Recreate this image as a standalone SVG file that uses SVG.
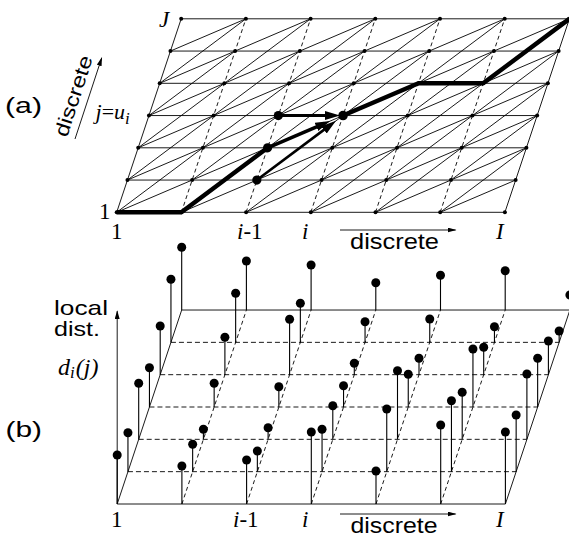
<svg xmlns="http://www.w3.org/2000/svg" width="569" height="538" viewBox="0 0 569 538">
<defs>
<style>
.ln{stroke:#000;stroke-width:0.9;fill:none}
.da{stroke:#000;stroke-width:0.9;fill:none;stroke-dasharray:4 3}
.db{stroke:#000;stroke-width:0.9;fill:none;stroke-dasharray:5 3}
.st{stroke:#000;stroke-width:1.1;fill:none}
.thick{stroke:#000;stroke-width:4.5;fill:none;stroke-linejoin:round}
.sd circle{fill:#000}
.sans{font-family:"Liberation Sans",Arial,sans-serif;fill:#000}
.serif{font-family:"Liberation Serif","Times New Roman",serif;fill:#000}
.it{font-style:italic}
</style>
<marker id="ah" markerUnits="userSpaceOnUse" markerWidth="10" markerHeight="6" refX="8" refY="2.5" orient="auto"><path d="M0,0 L9,2.5 L0,5 z" fill="#000"/></marker>
<marker id="bh" markerUnits="userSpaceOnUse" markerWidth="16" markerHeight="10" refX="9" refY="4.5" orient="auto"><path d="M0,0 L15,4.5 L0,9 z" fill="#000"/></marker>
</defs>
<rect width="569" height="538" fill="#fff"/>

<g id="panel-a-grid">
<path class="ln" d="M116.7 212.3H504.9M127.45 180.05H515.65M138.2 147.8H526.4M148.95 115.55H537.15M159.7 83.3H547.9M170.45 51.05H558.65M181.2 18.8H569.4M116.7 212.3L181.2 18.8M504.9 212.3L569.4 18.8"/>
<path class="ln" d="M116.7 212.3L569.4 18.8M181.4 212.3L558.65 51.05M246.1 212.3L547.9 83.3M310.8 212.3L537.15 115.55M375.5 212.3L526.4 147.8M440.2 212.3L515.65 180.05M127.45 180.05L504.7 18.8M138.2 147.8L440 18.8M148.95 115.55L375.3 18.8M159.7 83.3L310.6 18.8M170.45 51.05L245.9 18.8"/>
<path class="ln" d="M116.7 212.3L375.3 18.8M181.4 212.3L440 18.8M246.1 212.3L504.7 18.8M310.8 212.3L569.4 18.8M375.5 212.3L547.9 83.3M440.2 212.3L526.4 147.8M127.45 180.05L299.85 51.05M192.15 180.05L364.55 51.05M256.85 180.05L429.25 51.05M321.55 180.05L493.95 51.05M386.25 180.05L558.65 51.05M450.95 180.05L537.15 115.55M138.2 147.8L310.6 18.8M148.95 115.55L235.15 51.05M159.7 83.3L245.9 18.8"/>
<path class="da" d="M181.4 212.3L245.9 18.8M246.1 212.3L310.6 18.8M310.8 212.3L375.3 18.8M375.5 212.3L440 18.8M440.2 212.3L504.7 18.8"/>
</g>

<g id="connectors">
<path id="path-a" class="thick" d="M116.7 212.3L181.4 212.3L267.6 147.8"/>
<path id="path-b" class="thick" d="M343.05 115.55L418.5 83.3L483.2 83.3L569.4 18.8"/>
<line id="arrow-h" x1="278.35" y1="115.55" x2="334" y2="115.55" stroke="#000" stroke-width="3" marker-end="url(#bh)"/>
<line id="arrow-d1" x1="267.6" y1="147.8" x2="324.7" y2="123.4" stroke="#000" stroke-width="3.5" marker-end="url(#bh)"/>
<line id="arrow-d2" x1="256.85" y1="180.05" x2="331.2" y2="124.4" stroke="#000" stroke-width="2.6" marker-end="url(#bh)"/>
<line id="arrow-j" x1="75" y1="139" x2="101.7" y2="57.9" class="ln" marker-end="url(#ah)"/>
<line id="arrow-i-a" x1="340" y1="230" x2="455.5" y2="230" class="ln" marker-end="url(#ah)"/>
<line id="arrow-i-b" x1="340" y1="514" x2="455.5" y2="514" class="ln" marker-end="url(#ah)"/>
<line id="axis-d" x1="117.2" y1="504" x2="117.2" y2="311.2" class="ln" marker-end="url(#ah)"/>
</g>

<g id="panel-a-dots" class="sd">
<circle cx="116.7" cy="212.3" r="2"/><circle cx="181.4" cy="212.3" r="2"/><circle cx="246.1" cy="212.3" r="2"/><circle cx="310.8" cy="212.3" r="2"/><circle cx="375.5" cy="212.3" r="2"/><circle cx="440.2" cy="212.3" r="2"/><circle cx="504.9" cy="212.3" r="2"/>
<circle cx="127.45" cy="180.05" r="2"/><circle cx="192.15" cy="180.05" r="2"/><circle cx="256.85" cy="180.05" r="2"/><circle cx="321.55" cy="180.05" r="2"/><circle cx="386.25" cy="180.05" r="2"/><circle cx="450.95" cy="180.05" r="2"/><circle cx="515.65" cy="180.05" r="2"/>
<circle cx="138.2" cy="147.8" r="2"/><circle cx="202.9" cy="147.8" r="2"/><circle cx="267.6" cy="147.8" r="2"/><circle cx="332.3" cy="147.8" r="2"/><circle cx="397" cy="147.8" r="2"/><circle cx="461.7" cy="147.8" r="2"/><circle cx="526.4" cy="147.8" r="2"/>
<circle cx="148.95" cy="115.55" r="2"/><circle cx="213.65" cy="115.55" r="2"/><circle cx="278.35" cy="115.55" r="2"/><circle cx="343.05" cy="115.55" r="2"/><circle cx="407.75" cy="115.55" r="2"/><circle cx="472.45" cy="115.55" r="2"/><circle cx="537.15" cy="115.55" r="2"/>
<circle cx="159.7" cy="83.3" r="2"/><circle cx="224.4" cy="83.3" r="2"/><circle cx="289.1" cy="83.3" r="2"/><circle cx="353.8" cy="83.3" r="2"/><circle cx="418.5" cy="83.3" r="2"/><circle cx="483.2" cy="83.3" r="2"/><circle cx="547.9" cy="83.3" r="2"/>
<circle cx="170.45" cy="51.05" r="2"/><circle cx="235.15" cy="51.05" r="2"/><circle cx="299.85" cy="51.05" r="2"/><circle cx="364.55" cy="51.05" r="2"/><circle cx="429.25" cy="51.05" r="2"/><circle cx="493.95" cy="51.05" r="2"/><circle cx="558.65" cy="51.05" r="2"/>
<circle cx="181.2" cy="18.8" r="2"/><circle cx="245.9" cy="18.8" r="2"/><circle cx="310.6" cy="18.8" r="2"/><circle cx="375.3" cy="18.8" r="2"/><circle cx="440" cy="18.8" r="2"/><circle cx="504.7" cy="18.8" r="2"/><circle cx="569.4" cy="18.8" r="2"/>
</g>
<g id="panel-a-bigdots" class="sd">
<circle cx="256.85" cy="180.05" r="4.6"/><circle cx="267.6" cy="147.8" r="4.6"/><circle cx="278.35" cy="115.55" r="4.6"/><circle cx="343.05" cy="115.55" r="4.8"/>
</g>

<g id="panel-b-floor">
<path class="ln" d="M117.2 504H505.4M181.7 310.02H569.9M117.2 504L181.7 310.02M505.4 504L569.9 310.02"/>
<path class="db" d="M127.95 471.67H516.15M138.7 439.34H526.9M149.45 407.01H537.65M160.2 374.68H548.4M170.95 342.35H559.15"/>
<path class="da" d="M181.9 504L246.4 310.02M246.6 504L311.1 310.02M311.3 504L375.8 310.02M376 504L440.5 310.02M440.7 504L505.2 310.02"/>
</g>

<g id="panel-b-stems">
<path class="st" d="M117.2 504V455M127.95 471.67V432.7M138.7 439.34V383.3M149.45 407.01V367.7M160.2 374.68V326M170.95 342.35V279.3M181.7 310.02V247.3
M181.9 504V466M192.65 471.67V444.3M203.4 439.34V429.3M214.15 407.01V383.3M224.9 374.68V337.3M235.65 342.35V293.3M246.4 310.02V261
M246.6 504V460M257.35 471.67V451M268.1 439.34V427.7M278.85 407.01V386.7M289.6 374.68V319.3M300.35 342.35V303.3M311.1 310.02V265
M311.3 504V432M322.05 471.67V429.3M332.8 439.34V405.7M343.55 407.01V385.7M354.3 374.68V363.3M365.05 342.35V321.7M375.8 310.02V282.7
M376 504V471M386.75 471.67V409M397.5 439.34V370.7M408.25 407.01V374.3M419 374.68V358.3M429.75 342.35V319M440.5 310.02V275.3
M440.7 504V425M451.45 471.67V400.7M462.2 439.34V392.3M472.95 407.01V349M483.7 374.68V347.3M494.45 342.35V326.7M505.2 310.02V270.7
M505.4 504V432M516.15 471.67V415M526.9 439.34V374M537.65 407.01V358.3M548.4 374.68V341M559.15 342.35V331M569.9 310.02V295"/>
</g>
<g id="panel-b-dots" class="sd">
<circle cx="117.2" cy="455" r="4.5"/><circle cx="127.95" cy="432.7" r="4.5"/><circle cx="138.7" cy="383.3" r="4.5"/><circle cx="149.45" cy="367.7" r="4.5"/><circle cx="160.2" cy="326" r="4.5"/><circle cx="170.95" cy="279.3" r="4.5"/><circle cx="181.7" cy="247.3" r="4.5"/>
<circle cx="181.9" cy="466" r="4.5"/><circle cx="192.65" cy="444.3" r="4.5"/><circle cx="203.4" cy="429.3" r="4.5"/><circle cx="214.15" cy="383.3" r="4.5"/><circle cx="224.9" cy="337.3" r="4.5"/><circle cx="235.65" cy="293.3" r="4.5"/><circle cx="246.4" cy="261" r="4.5"/>
<circle cx="246.6" cy="460" r="4.5"/><circle cx="257.35" cy="451" r="4.5"/><circle cx="268.1" cy="427.7" r="4.5"/><circle cx="278.85" cy="386.7" r="4.5"/><circle cx="289.6" cy="319.3" r="4.5"/><circle cx="300.35" cy="303.3" r="4.5"/><circle cx="311.1" cy="265" r="4.5"/>
<circle cx="311.3" cy="432" r="4.5"/><circle cx="322.05" cy="429.3" r="4.5"/><circle cx="332.8" cy="405.7" r="4.5"/><circle cx="343.55" cy="385.7" r="4.5"/><circle cx="354.3" cy="363.3" r="4.5"/><circle cx="365.05" cy="321.7" r="4.5"/><circle cx="375.8" cy="282.7" r="4.5"/>
<circle cx="376" cy="471" r="4.5"/><circle cx="386.75" cy="409" r="4.5"/><circle cx="397.5" cy="370.7" r="4.5"/><circle cx="408.25" cy="374.3" r="4.5"/><circle cx="419" cy="358.3" r="4.5"/><circle cx="429.75" cy="319" r="4.5"/><circle cx="440.5" cy="275.3" r="4.5"/>
<circle cx="440.7" cy="425" r="4.5"/><circle cx="451.45" cy="400.7" r="4.5"/><circle cx="462.2" cy="392.3" r="4.5"/><circle cx="472.95" cy="349" r="4.5"/><circle cx="483.7" cy="347.3" r="4.5"/><circle cx="494.45" cy="326.7" r="4.5"/><circle cx="505.2" cy="270.7" r="4.5"/>
<circle cx="505.4" cy="432" r="4.5"/><circle cx="516.15" cy="415" r="4.5"/><circle cx="526.9" cy="374" r="4.5"/><circle cx="537.65" cy="358.3" r="4.5"/><circle cx="548.4" cy="341" r="4.5"/><circle cx="559.15" cy="331" r="4.5"/><circle cx="569.9" cy="295" r="4.5"/>
</g>

<g id="labels">
<text class="sans" x="5" y="113" font-size="22" textLength="37" lengthAdjust="spacingAndGlyphs">(a)</text>
<text class="sans" x="5.5" y="436.5" font-size="22" textLength="36.5" lengthAdjust="spacingAndGlyphs">(b)</text>
<text class="sans" transform="translate(67,138) rotate(-72)" font-size="20" textLength="84" lengthAdjust="spacingAndGlyphs">discrete</text>
<text class="sans" x="350" y="249" font-size="22" textLength="89" lengthAdjust="spacingAndGlyphs">discrete</text>
<text class="sans" x="350.5" y="533" font-size="22" textLength="87" lengthAdjust="spacingAndGlyphs">discrete</text>
<text class="sans" x="54" y="315" font-size="21" textLength="54" lengthAdjust="spacingAndGlyphs">local</text>
<text class="sans" x="54" y="336" font-size="21" textLength="46" lengthAdjust="spacingAndGlyphs">dist.</text>
<text class="serif it" x="58" y="375" font-size="24">d<tspan font-size="17" dy="3">i</tspan><tspan dy="-3" dx="1">(j)</tspan></text>
<text class="serif" x="95.5" y="119" font-size="22"><tspan class="it">j</tspan>=<tspan class="it">u</tspan><tspan class="it" font-size="17" dy="5">i</tspan></text>
<text class="serif it" x="159" y="27" font-size="23">J</text>
<text class="serif" x="99" y="219" font-size="23">1</text>
<text class="serif" x="111" y="239" font-size="23">1</text>
<text class="serif" x="237" y="239" font-size="23"><tspan class="it">i</tspan>-1</text>
<text class="serif it" x="302" y="239" font-size="23">i</text>
<text class="serif it" x="496" y="239" font-size="23">I</text>
<text class="serif" x="111" y="527" font-size="23">1</text>
<text class="serif" x="233" y="527" font-size="23"><tspan class="it">i</tspan>-1</text>
<text class="serif it" x="302" y="527" font-size="23">i</text>
<text class="serif it" x="496" y="527" font-size="23">I</text>
</g>
</svg>
